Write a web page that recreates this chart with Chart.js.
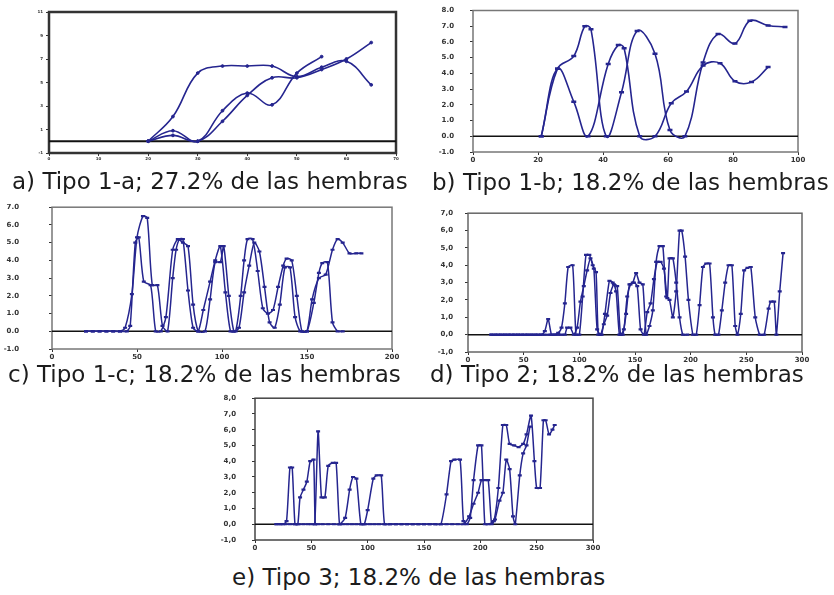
<!DOCTYPE html>
<html>
<head>
<meta charset="utf-8">
<title>Tipos de hembras</title>
<script src="https://cdn.jsdelivr.net/npm/chart.js@4.4.0/dist/chart.umd.min.js"></script>
<style>
body{margin:0;background:#fff;width:834px;height:595px;position:relative;overflow:hidden;}
canvas{position:absolute;}
.cap{position:absolute;font-family:"DejaVu Sans",Verdana,sans-serif;font-size:23px;line-height:23px;color:#1c1c1c;white-space:nowrap;}
</style>
</head>
<body>
<canvas id="ga"></canvas>
<canvas id="gb"></canvas>
<canvas id="gc"></canvas>
<canvas id="gd"></canvas>
<canvas id="ge"></canvas>
<div class="cap" style="left:12px;top:170px">a) Tipo 1-a; 27.2% de las hembras</div>
<div class="cap" style="left:432px;top:171px">b) Tipo 1-b; 18.2% de las hembras</div>
<div class="cap" style="left:8px;top:363px">c) Tipo 1-c; 18.2% de las hembras</div>
<div class="cap" style="left:430px;top:363px">d) Tipo 2; 18.2% de las hembras</div>
<div class="cap" style="left:232px;top:566px">e) Tipo 3; 18.2% de las hembras</div>
<script>
// tick labels of each panel
var aXTicks = [0,10,20,30,40,50,60,70];
var aYTicks = [-1,1,3,5,7,9,11];
var bXTicks = [0,20,40,60,80,100];
var bYTicks = [-1,0,1,2,3,4,5,6,7,8];
var cXTicks = [0,50,100,150,200];
var cYTicks = [-1,0,1,2,3,4,5,6,7];
var dXTicks = [0,50,100,150,200,250,300];
var dYTicks = [-1,0,1,2,3,4,5,6,7];
var eXTicks = [0,50,100,150,200,250,300];
var eYTicks = [-1,0,1,2,3,4,5,6,7,8];

// a) Tipo 1-a (3 hembras)
var aX1 = [20,25,30,35,40,45,50,55,60,65];
var aY1 = [0,2.1,5.8,6.4,6.4,6.4,5.5,6.3,6.8,4.8];
var aX2 = [20,25,30,35,40,45,50,55];
var aY2 = [0,0.9,0,2.6,4.1,3.1,5.8,7.2];
var aX3 = [20,25,30,35,40,45,50,55,60,65];
var aY3 = [0,0.5,0,1.7,3.9,5.4,5.4,6.1,7.0,8.4];

// b) Tipo 1-b
var bX1 = [21,26,31,34.4,36.3,41,45.7,50.5,56,60.6,65.2,70.8,75.4,80.6,85.2,90.8,96];
var bY1 = [0,4.3,5.1,7.0,6.8,0,2.8,6.7,5.25,0.4,0,4.7,6.5,5.9,7.35,7.05,6.95];
var bX2 = [21,26,31,35.4,41.6,44.7,46.5,51.3,56,61,65.7,70.8,76,80.6,85.7,90.8];
var bY2 = [0,4.3,2.2,0,4.6,5.8,5.6,0,0,2.1,2.85,4.5,4.65,3.5,3.45,4.4];

// c) Tipo 1-c
var cX1 = [20,24,28,32,36,40,43,47,50,53.5,56,59,62,65,68,71,73,75,77,80,83,86,89,93,96,99,102,105,108,111,113,115,118,121,124,127,130,133,136,138,141,144,147,150,153,157,161,165,168,171,175,179,182];
var cY1 = [0,0,0,0,0,0,0.2,2.1,5.3,6.5,6.4,2.6,2.6,0.3,0,3.0,4.6,5.2,5.2,2.3,0.2,0,1.2,2.8,4.0,4.8,2.2,0,0,2.0,4.0,5.2,5.2,3.4,1.3,1.0,1.2,2.5,3.7,4.1,4.0,2.0,0,0,1.8,3.0,3.2,4.6,5.2,5.0,4.4,4.4,4.4];
var cX2 = [20,24,28,32,36,40,44,46,49,51,54,58,61,64,67,71,74,77,80,83,86,90,93,96,99,101,104,107,110,113,116,119,122,125,128,131,134,137,140,143,146,150,154,157,159,162,165,168,171];
var cY2 = [0,0,0,0,0,0,0,0.3,5.0,5.3,2.8,2.6,0,0,0.8,4.6,5.2,5.0,4.8,1.5,0,0,1.8,3.9,3.9,4.8,2.0,0,0.2,2.2,3.7,5.0,4.5,2.5,0.5,0.2,1.5,3.6,3.6,0.8,0,0,1.6,3.3,3.85,3.9,0.5,0,0];

// d) Tipo 2
var dX1 = [21,25,29,33,37,41,45,49,53,57,61,65,69,73,77,81,84,87,90,94,97,100,103,106,109,112,115,117,120,123,127,130,133,136,139,142,145,148,151,154,157,160,163,166,169,172,175,178,181,184,187,190,192,195,198,202,205,208,211,214,217,220,222,225,228,231,234,237,240,242,245,248,251,254,258,262,266,270,272,275,277,280,283];
var dY1 = [0,0,0,0,0,0,0,0,0,0,0,0,0,0,0,0.1,0.4,1.8,3.9,4.0,0,0,2.2,4.6,4.6,4.0,3.6,0,0,1.2,3.1,3.0,2.5,0,0,1.2,2.9,3.0,3.55,3.0,2.9,0,0.5,1.4,4.2,5.1,5.1,2.2,2.0,1.0,2.5,6.0,6.0,4.5,2.0,0,0,1.7,3.9,4.1,4.1,1.0,0,0,1.4,3.0,4.0,4.0,0.5,0,1.2,3.7,3.85,3.9,1.0,0,0,1.5,1.9,1.9,0,2.5,4.7];
var dX2 = [21,24,27,30,33,36,39,42,45,48,51,54,57,60,63,66,69,72,75,78,81,84,87,89,92,95,98,101,104,107,110,113,116,119,122,125,128,131,134,137,140,143,146,149,152,155,158,161,164,167,170,173,176,179,181,184,187,190,193,197];
var dY2 = [0,0,0,0,0,0,0,0,0,0,0,0,0,0,0,0,0.2,0.9,0,0,0,0,0,0.4,0.4,0,0.4,1.9,2.8,3.7,4.4,3.8,0.3,0,0.6,1.1,2.4,2.9,2.8,0,0.3,2.2,2.9,3.0,2.8,0.3,0,1.3,1.8,3.2,4.2,4.2,3.8,2.1,4.4,4.4,3.0,1.0,0,0];

// e) Tipo 3
var eX1 = [19,22,25,28,31,33,35.5,38,40,43,46,49,52,53.5,56,60,65,70,75,80,84,87,90,94,98,102,106,110,115,120,125,130,135,140,145,150,155,160,165,170,174,177,182,185,188,191,194,198,201,204,207,212,216,220,223,226,230,234,238,241,245,248,250,253,256,258,261,264,266];
var eY1 = [0,0,0,0.2,3.6,3.6,0,0,1.7,2.2,2.7,4.0,4.1,0,0,0,0,0,0,0.4,2.2,3.0,2.9,0,0,0,0,0,0,0,0,0,0,0,0,0,0,0,0,1.9,4.0,4.1,4.1,0.2,0,0.4,2.8,5.0,5.0,0,0,0.2,2.3,6.3,6.3,5.1,5.0,4.9,5.1,5.7,6.9,4.0,2.3,2.3,6.6,6.6,5.7,6.0,6.3];
var eX2 = [19,23,27,31,35,39,43,47,50,53,56,59,62,65,69,72,75,78,82,86,90,94,97,100,105,108,112,115,120,125,130,135,140,145,150,155,160,165,170,175,180,185,190,194,198,201,204,207,210,213,217,220,223,226,229,231,235,238,241,244];
var eY2 = [0,0,0,0,0,0,0,0,0,0,5.9,1.7,1.7,3.7,3.9,3.9,0,0,0,0,0,0,0,0.9,2.9,3.1,3.1,0,0,0,0,0,0,0,0,0,0,0,0,0,0,0,0.5,1.3,2.0,2.8,2.8,2.8,0,0.3,1.5,2.0,4.1,3.5,0.5,0,3.1,4.5,5.0,6.2];

var lineColor = "#25258f";

// plot frame and zero line, drawn under the series
var framePlugin = {
    id: "frame",
    beforeDatasetsDraw: function (chart, args, opts) {
        var ctx = chart.ctx, a = chart.chartArea;
        var y0 = chart.scales.y.getPixelForValue(0);
        ctx.save();
        ctx.strokeStyle = opts.color;
        ctx.lineWidth = opts.width;
        ctx.strokeRect(a.left, a.top, a.right - a.left, a.bottom - a.top);
        ctx.strokeStyle = "#111";
        ctx.lineWidth = opts.zeroWidth;
        ctx.beginPath();
        ctx.moveTo(a.left, y0);
        ctx.lineTo(a.right, y0);
        ctx.stroke();
        ctx.restore();
    }
};

var pairs = function (xs, ys) {
    var out = [];
    for (var i = 0; i < xs.length; i++) { out.push({x: xs[i], y: ys[i]}); }
    return out;
};

// box = plot area [left, top, right, bottom] on the page
var makePanel = function (id, box, xTicks, yTicks, fmt, series, st) {
    var yW = 48, xH = 18, padTop = 6, padRight = 10;
    var cv = document.getElementById(id);
    cv.width = box[2] - box[0] + yW + padRight;
    cv.height = box[3] - box[1] + padTop + xH;
    cv.style.left = (box[0] - yW) + "px";
    cv.style.top = (box[1] - padTop) + "px";
    var sets = series.map(function (s) {
        return {
            data: pairs(s[0], s[1]),
            borderColor: lineColor,
            backgroundColor: lineColor,
            borderWidth: st.lw,
            tension: st.tension,
            pointStyle: st.pt,
            pointRadius: st.pr,
            pointBorderWidth: st.pbw,
            fill: false
        };
    });
    var tickFont = {family: "DejaVu Sans", size: st.fs, weight: "bold"};
    new Chart(cv, {
        type: "line",
        data: {datasets: sets},
        options: {
            responsive: false,
            animation: false,
            events: [],
            layout: {padding: {top: padTop, right: padRight, left: 0, bottom: 0}},
            plugins: {
                legend: {display: false},
                tooltip: {enabled: false},
                frame: {color: st.frame, width: st.fw, zeroWidth: st.zw}
            },
            scales: {
                x: {
                    type: "linear",
                    min: xTicks[0],
                    max: xTicks[xTicks.length - 1],
                    afterBuildTicks: function (s) { s.ticks = xTicks.map(function (v) { return {value: v}; }); },
                    afterFit: function (s) { s.height = xH; s.paddingLeft = 0; s.paddingRight = 0; },
                    border: {display: false},
                    grid: {drawOnChartArea: false, drawTicks: true, tickLength: 3, tickColor: "#333"},
                    ticks: {font: tickFont, color: "#333", padding: 1, maxRotation: 0, autoSkip: false,
                            callback: function (v) { return String(v); }}
                },
                y: {
                    min: yTicks[0],
                    max: yTicks[yTicks.length - 1],
                    afterBuildTicks: function (s) { s.ticks = yTicks.map(function (v) { return {value: v}; }); },
                    // keep the label gap from pushing the plot area down
                    afterFit: function (s) { s.width = yW; s.paddingTop = 0; s.paddingBottom = 0; },
                    border: {display: false},
                    grid: {drawOnChartArea: false, drawTicks: true, tickLength: 3, tickColor: "#333"},
                    ticks: {font: tickFont, color: "#333", padding: st.ypad, autoSkip: false,
                            callback: function (v) { return fmt(v); }}
                }
            }
        },
        plugins: [framePlugin]
    });
};

var dot = function (v) { return v.toFixed(1); };
var comma = function (v) { return v.toFixed(1).replace(".", ","); };
var plain = function (v) { return String(v); };

makePanel("ga", [49, 12, 396, 153], aXTicks, aYTicks, plain,
    [[aX1, aY1], [aX2, aY2], [aX3, aY3]],
    {lw: 1.6, tension: 0.4, pt: "circle", pr: 1.4, pbw: 1, fs: 4, ypad: 3, frame: "#333", fw: 2.5, zw: 2});
makePanel("gb", [473, 10, 798, 152], bXTicks, bYTicks, dot,
    [[bX1, bY1], [bX2, bY2]],
    {lw: 1.6, tension: 0.4, pt: "line", pr: 2.5, pbw: 2.5, fs: 7, ypad: 16, frame: "#777", fw: 1.5, zw: 1.5});
makePanel("gc", [52, 207, 392, 349], cXTicks, cYTicks, dot,
    [[cX1, cY1], [cX2, cY2]],
    {lw: 1.5, tension: 0.25, pt: "line", pr: 2, pbw: 2.2, fs: 7, ypad: 30, frame: "#777", fw: 1.5, zw: 1.5});
makePanel("gd", [468, 213, 802, 352], dXTicks, dYTicks, comma,
    [[dX1, dY1], [dX2, dY2]],
    {lw: 1.5, tension: 0.2, pt: "line", pr: 2, pbw: 2.2, fs: 7, ypad: 12, frame: "#666", fw: 1.5, zw: 1.5});
makePanel("ge", [255, 398, 593, 540], eXTicks, eYTicks, comma,
    [[eX1, eY1], [eX2, eY2]],
    {lw: 1.5, tension: 0.2, pt: "line", pr: 2, pbw: 2.2, fs: 7, ypad: 16, frame: "#444", fw: 1.5, zw: 1.5});
</script>
</body>
</html>
